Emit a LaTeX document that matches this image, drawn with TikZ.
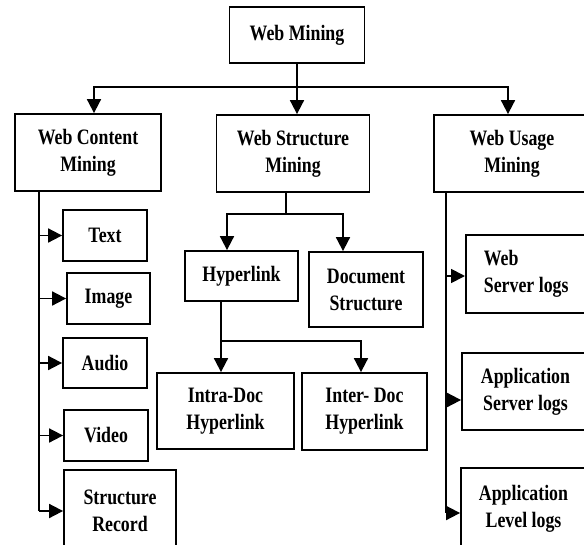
\documentclass[tikz,border=0pt]{standalone}
\usepackage{fontspec}
\setmainfont{Liberation Serif}[FakeStretch=0.81]
\usepackage{tikz}
\usetikzlibrary{arrows.meta,calc,positioning}
\tikzset{
  boxnode/.style={draw,line width=1.8pt,align=center,inner sep=2pt,
    font=\bfseries\fontsize{22}{27}\selectfont},
  conn/.style={line width=1.8pt},
  arrowline/.style={line width=1.8pt,-{Triangle[width=14pt,length=14pt]}}
}

\begin{document}
\begin{tikzpicture}[x=1pt,y=-1pt]
\clip (0,0) rectangle (584,544);
\fill[white] (0,0) rectangle (584,544);
% top level
\node[boxnode,minimum width=135pt,minimum height=56pt] (wm) at (297,35) {Web Mining};
\node[boxnode,minimum width=146pt,minimum height=77pt] (wcm) at (88,152.5) {Web Content\\Mining};
\node[boxnode,minimum width=153pt,minimum height=77pt] (wsm) at (293,153.5) {Web Structure\\Mining};
\node[boxnode,minimum width=156pt,minimum height=77pt] (wum) at (512,153.5) {Web Usage\\Mining};
% content mining
\node[boxnode,minimum width=84pt,minimum height=51pt] (text) at (105,235.5) {Text};
\node[boxnode,minimum width=83pt,minimum height=51pt] (image) at (108.5,298.5) {Image};
\node[boxnode,minimum width=84pt,minimum height=50pt] (audio) at (105,363) {Audio};
\node[boxnode,minimum width=84pt,minimum height=51pt] (video) at (106,435.5) {Video};
\node[boxnode,minimum width=112pt,minimum height=82pt] (strrec) at (120,511) {Structure\\Record};
% structure mining
\node[boxnode,minimum width=113pt,minimum height=50pt] (hyper) at (241.5,276) {Hyperlink};
\node[boxnode,minimum width=114pt,minimum height=75pt] (docstr) at (366,289.5) {Document\\Structure};
\node[boxnode,minimum width=137pt,minimum height=76pt] (intra) at (225.5,411) {Intra-Doc\\Hyperlink};
\node[boxnode,minimum width=125pt,minimum height=77pt] (inter) at (364.5,411.5) {Inter- Doc\\Hyperlink};
% usage mining
\node[boxnode,minimum height=78pt,inner xsep=18pt,align=left,anchor=west] (wsl) at (465,274) {Web\\Server logs};
\node[boxnode,minimum width=127pt,minimum height=77pt] (asl) at (525.5,391.5) {Application\\Server logs};
\node[boxnode,minimum width=125pt,minimum height=81pt] (all) at (523.5,508.5) {Application\\Level logs};

% connectors from the root
\coordinate (mj) at (297,87);
\draw[conn] (wm.south) -- (mj);
\draw[arrowline] (mj) -| ([xshift=6pt]wcm.north);
\draw[arrowline] (mj) -- (mj |- wsm.north);
\draw[arrowline] (mj) -| ([xshift=-4pt]wum.north);
% content spine
\coordinate (cs) at ([xshift=-49pt]wcm.south);
\draw[conn] (cs) -- (cs |- strrec.west);
\foreach \n in {text,image,audio,video,strrec}
  \draw[arrowline] (cs |- \n.west) -- (\n.west);
% structure branches
\coordinate (sj) at (286,214);
\draw[conn] (wsm.south -| sj) -- (sj);
\draw[arrowline] (sj) -| ([xshift=-14.5pt]hyper.north);
\draw[arrowline] (sj) -| ([xshift=-23pt]docstr.north);
\coordinate (hj) at ([xshift=-20.5pt]hyper.south);
\coordinate (hk) at (221,341);
\draw[arrowline] (hj) -- (hj |- intra.north);
\draw[arrowline] (hk) -| ([xshift=-3.5pt]inter.north);
% usage spine
\coordinate (us) at ([xshift=-66pt]wum.south);
\draw[conn] (us) -- ([yshift=-4.5pt]us |- all.west);
\draw[arrowline] ([yshift=-2pt]us |- wsl.west) -- ([yshift=-2pt]wsl.west);
\draw[arrowline] ([yshift=-8.5pt]us |- asl.west) -- ([yshift=-8.5pt]asl.west);
\draw[arrowline] ([yshift=-4.5pt]us |- all.west) -- ([yshift=-4.5pt]all.west);
\end{tikzpicture}
\end{document}
